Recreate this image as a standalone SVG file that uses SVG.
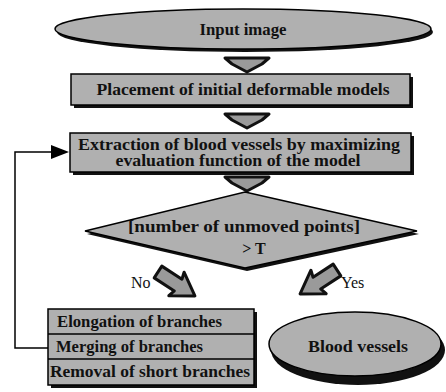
<svg xmlns="http://www.w3.org/2000/svg" width="446" height="392" viewBox="0 0 446 392">
<style>
.bg{fill:#ffffff}
.sh{fill:#111111}
.nd{fill:#b0b0b0;stroke:#000;stroke-width:1.5}
.ar{fill:#9a9a9a;stroke:#111;stroke-width:3;stroke-linejoin:round}
.ln{fill:none;stroke:#000;stroke-width:1.5}
.t{font-family:"Liberation Serif","Times New Roman",serif;font-size:16px;font-weight:bold;fill:#111}
.lb{font-family:"Liberation Serif","Times New Roman",serif;font-size:16px;fill:#111}
</style>
<defs>
<path id="darr" d="M-22,0 L22,0 L15,6 L0,14 L-15,6 Z"/>
<path id="barr" d="M0,-7 L24,-7 L22,-14 L44,0 L22,14 L24,7 L0,7 Z"/>
</defs>
<rect class="bg" width="446" height="392"/>

<g id="connectors">
<use href="#darr" class="ar" x="247" y="58"/>
<use href="#darr" class="ar" x="247" y="114"/>
<use href="#darr" class="ar" x="247" y="177"/>
<use href="#barr" class="ar" transform="translate(158,272) rotate(33)"/>
<use href="#barr" class="ar" transform="translate(337,270) rotate(147)"/>
<path class="ln" d="M48,348 H15 V152 H52"/>
<path d="M51,145 L69,152 L51,159 Z" fill="#000"/>
<text class="lb" x="131" y="288">No</text>
<text class="lb" x="341" y="288">Yes</text>
</g>

<g id="input-image">
<ellipse class="sh" cx="245" cy="32" rx="188" ry="20"/>
<ellipse class="nd" cx="243" cy="29" rx="188" ry="20"/>
<text class="t" x="243" y="35" text-anchor="middle" textLength="87" lengthAdjust="spacingAndGlyphs">Input image</text>
</g>

<g id="placement">
<rect class="sh" x="74" y="77" width="339" height="31"/>
<rect class="nd" x="71" y="74" width="339" height="31"/>
<text class="t" x="243" y="95" text-anchor="middle" textLength="293" lengthAdjust="spacingAndGlyphs">Placement of initial deformable models</text>
</g>

<g id="extraction">
<rect class="sh" x="73" y="136" width="341" height="39"/>
<rect class="nd" x="70" y="133" width="341" height="39"/>
<text class="t" x="239" y="150" text-anchor="middle" textLength="322" lengthAdjust="spacingAndGlyphs">Extraction of blood vessels by maximizing</text>
<text class="t" x="238" y="166" text-anchor="middle" textLength="245" lengthAdjust="spacingAndGlyphs">evaluation function of the model</text>
</g>

<g id="decision">
<polygon class="sh" points="247,195 419,234 247,271 87,234"/>
<polygon class="nd" points="245,192 417,231 245,268 85,231"/>
<text class="t" x="244" y="232" text-anchor="middle" textLength="232" lengthAdjust="spacingAndGlyphs">[number of unmoved points]</text>
<text class="t" x="254" y="254" text-anchor="middle">&gt; T</text>
</g>

<g id="branch-ops">
<rect class="sh" x="51" y="312" width="206" height="76"/>
<rect class="nd" x="48" y="309" width="206" height="76"/>
<line class="ln" x1="48" y1="334" x2="254" y2="334"/>
<line class="ln" x1="48" y1="359" x2="254" y2="359"/>
<text class="t" x="57" y="327" textLength="165" lengthAdjust="spacingAndGlyphs">Elongation of branches</text>
<text class="t" x="56" y="352" textLength="147" lengthAdjust="spacingAndGlyphs">Merging of branches</text>
<text class="t" x="50" y="377" textLength="200" lengthAdjust="spacingAndGlyphs">Removal of short branches</text>
</g>

<g id="blood-vessels">
<ellipse class="sh" cx="358" cy="350" rx="87" ry="35"/>
<ellipse class="nd" cx="355" cy="344" rx="86" ry="32"/>
<text class="t" x="358" y="352" text-anchor="middle" textLength="100" lengthAdjust="spacingAndGlyphs">Blood vessels</text>
</g>
</svg>
